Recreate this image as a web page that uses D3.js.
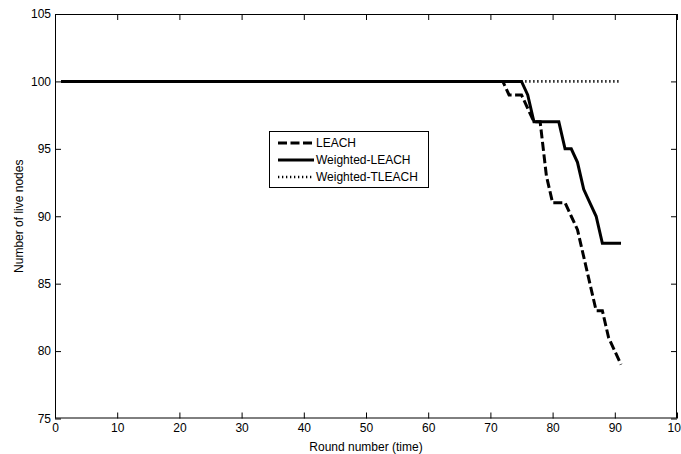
<!DOCTYPE html>
<html>
<head>
<meta charset="utf-8">
<script src="https://cdn.jsdelivr.net/npm/d3@7"></script>
<style>
  html, body { margin: 0; padding: 0; background: #fff; overflow: hidden; }
  svg { display: block; }
  text { font-family: "Liberation Sans", Arial, sans-serif; fill: #000; }
</style>
</head>
<body>
<svg id="chart" width="681" height="454"></svg>
<script>
// Rounds 1..91
const rounds = d3.range(1, 92);

// Live nodes per round, LEACH
const leach = [
  100,100,100,100,100,100,100,100,100,100, // 1-10
  100,100,100,100,100,100,100,100,100,100, // 11-20
  100,100,100,100,100,100,100,100,100,100, // 21-30
  100,100,100,100,100,100,100,100,100,100, // 31-40
  100,100,100,100,100,100,100,100,100,100, // 41-50
  100,100,100,100,100,100,100,100,100,100, // 51-60
  100,100,100,100,100,100,100,100,100,100, // 61-70
  100,100,99,99,99,98,97,97,93,91,          // 71-80
  91,91,90,89,87,85,83,83,81,80,            // 81-90
  79                                         // 91
];

// Live nodes per round, Weighted-LEACH
const weightedLeach = [
  100,100,100,100,100,100,100,100,100,100,
  100,100,100,100,100,100,100,100,100,100,
  100,100,100,100,100,100,100,100,100,100,
  100,100,100,100,100,100,100,100,100,100,
  100,100,100,100,100,100,100,100,100,100,
  100,100,100,100,100,100,100,100,100,100,
  100,100,100,100,100,100,100,100,100,100,
  100,100,100,100,100,99,97,97,97,97,       // 71-80
  97,95,95,94,92,91,90,88,88,88,            // 81-90
  88                                         // 91
];

// Live nodes per round, Weighted-TLEACH (no node dies)
const weightedTleach = rounds.map(() => 100);

const xTicks = [0, 10, 20, 30, 40, 50, 60, 70, 80, 90, 100];
const yTicks = [75, 80, 85, 90, 95, 100, 105];

const seriesNames = ["LEACH", "Weighted-LEACH", "Weighted-TLEACH"];

const styles = {
  "LEACH": { width: 3, dash: "9,3.5" },
  "Weighted-LEACH": { width: 3, dash: null },
  "Weighted-TLEACH": { width: 2.6, dash: "1.3,2.7" }
};

const svg = d3.select("#chart");
const L = 55, R = 677, T = 14, B = 418.5;

const x = d3.scaleLinear().domain([0, 100]).range([L, R]);
const y = d3.scaleLinear().domain([75, 105]).range([B, T]);

// Plot area
svg.append("rect")
  .attr("x", L).attr("y", T).attr("width", R - L).attr("height", B - T)
  .attr("fill", "#fff");

const line = d3.line()
  .x((d, i) => x(rounds[i]))
  .y(d => y(d));

const data = [
  { name: "Weighted-TLEACH", values: weightedTleach },
  { name: "LEACH", values: leach },
  { name: "Weighted-LEACH", values: weightedLeach }
];

svg.append("g").selectAll("path")
  .data(data)
  .join("path")
  .attr("d", d => line(d.values))
  .attr("fill", "none")
  .attr("stroke", "#000")
  .attr("stroke-width", d => styles[d.name].width)
  .attr("stroke-dasharray", d => styles[d.name].dash)
  .attr("stroke-linejoin", "miter");

// Axes with inward ticks on all four sides
const tickLen = 6;
const styleAxis = g => {
  g.select(".domain").remove();
  g.selectAll(".tick line").attr("stroke", "#000").attr("stroke-width", 1);
  g.selectAll(".tick text").attr("font-size", 12).attr("fill", "#000");
};

svg.append("g")
  .attr("transform", `translate(0,${B})`)
  .call(d3.axisBottom(x).tickValues(xTicks).tickFormat(d3.format("d"))
    .tickSizeInner(-tickLen).tickSizeOuter(0).tickPadding(5))
  .call(styleAxis);

svg.append("g")
  .attr("transform", `translate(0,${T})`)
  .call(d3.axisTop(x).tickValues(xTicks).tickFormat("")
    .tickSizeInner(-tickLen).tickSizeOuter(0))
  .call(styleAxis);

svg.append("g")
  .attr("transform", `translate(${L},0)`)
  .call(d3.axisLeft(y).tickValues(yTicks).tickFormat(d3.format("d"))
    .tickSizeInner(-tickLen).tickSizeOuter(0).tickPadding(4))
  .call(styleAxis);

svg.append("g")
  .attr("transform", `translate(${R},0)`)
  .call(d3.axisRight(y).tickValues(yTicks).tickFormat("")
    .tickSizeInner(-tickLen).tickSizeOuter(0))
  .call(styleAxis);

// Box
svg.append("rect")
  .attr("x", L + 0.5).attr("y", T + 0.5)
  .attr("width", R - L - 1).attr("height", B - T - 1)
  .attr("fill", "none").attr("stroke", "#000").attr("stroke-width", 1);

// Axis titles
svg.append("text")
  .attr("x", (L + R) / 2).attr("y", 451)
  .attr("text-anchor", "middle").attr("font-size", 12)
  .text("Round number (time)");

svg.append("text")
  .attr("transform", `translate(23,${(T + B) / 2}) rotate(-90)`)
  .attr("text-anchor", "middle").attr("font-size", 12)
  .text("Number of live nodes");

// Legend
const lg = svg.append("g").attr("transform", "translate(269,131)");
lg.append("rect")
  .attr("x", 0.5).attr("y", 0.5).attr("width", 159).attr("height", 56)
  .attr("fill", "#fff").attr("stroke", "#000").attr("stroke-width", 1);

const rows = lg.selectAll("g.row")
  .data(seriesNames)
  .join("g")
  .attr("class", "row")
  .attr("transform", (d, i) => `translate(0,${12 + i * 17})`);

rows.append("line")
  .attr("x1", 9).attr("x2", 45).attr("y1", 0).attr("y2", 0)
  .attr("stroke", "#000")
  .attr("stroke-width", d => styles[d].width)
  .attr("stroke-dasharray", d => styles[d].dash);

rows.append("text")
  .attr("x", 47).attr("y", 0).attr("dy", "0.36em")
  .attr("font-size", 12)
  .text(d => d);
</script>
</body>
</html>
